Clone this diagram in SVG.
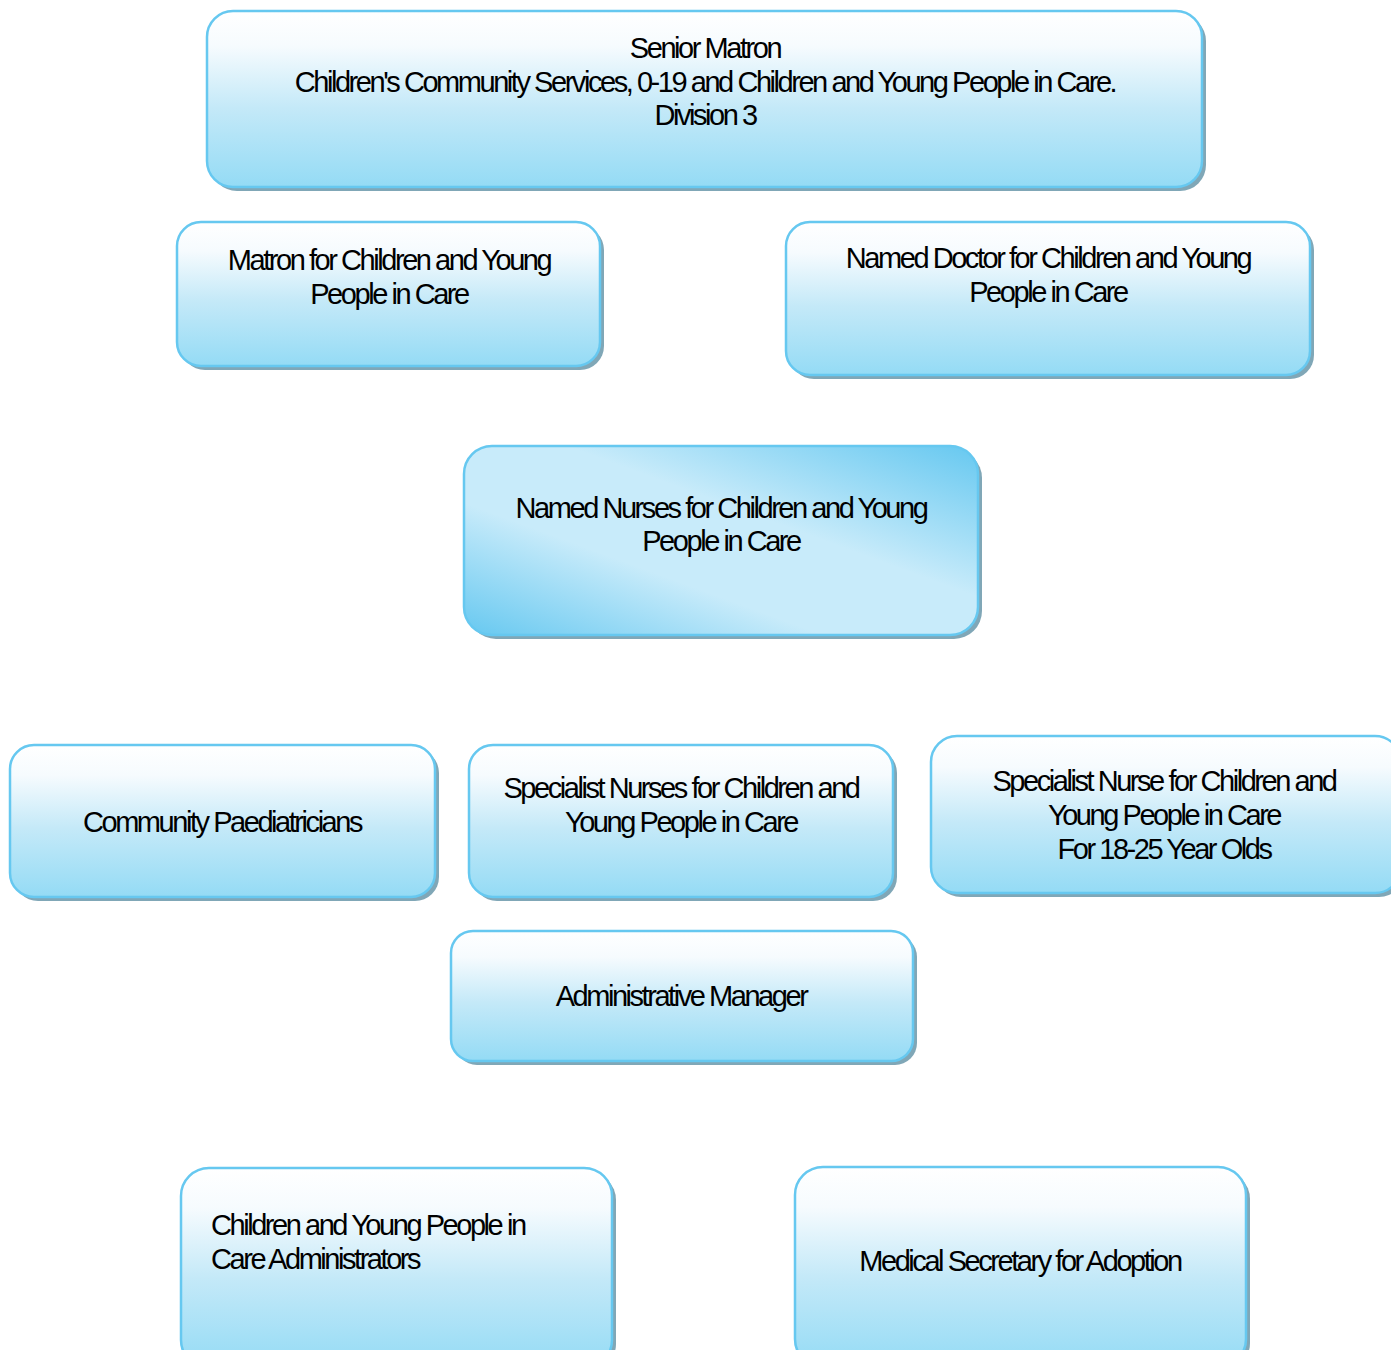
<svg xmlns="http://www.w3.org/2000/svg" width="1391" height="1350" viewBox="0 0 1391 1350">
  <defs>
    <linearGradient id="fillV" x1="0" y1="0" x2="0" y2="1">
      <stop offset="0" stop-color="#ffffff"/>
      <stop offset="0.2" stop-color="#f6fbfe"/>
      <stop offset="0.55" stop-color="#c4e9f8"/>
      <stop offset="1" stop-color="#94dbf5"/>
    </linearGradient>
    <linearGradient id="fillDiag" x1="0" y1="1" x2="1" y2="0">
      <stop offset="0" stop-color="#66c8f0"/>
      <stop offset="0.35" stop-color="#c8ebfa"/>
      <stop offset="0.6" stop-color="#c8ebfa"/>
      <stop offset="1" stop-color="#66c8f0"/>
    </linearGradient>
    <style>
      .shadow { fill: #80a7b7; }
      .box { fill: url(#fillV); stroke: #66c8f0; stroke-width: 2.5; }
      .box-diag { fill: url(#fillDiag); stroke: #66c8f0; stroke-width: 2.5; }
      .label { font-family: "Liberation Sans", Arial, sans-serif; font-size: 29px; letter-spacing: -2.45px; fill: #000; text-anchor: middle; }
      .label-left { text-anchor: start; }
    </style>
  </defs>

  <g id="connectors"></g>

  <g id="senior-matron">
    <rect class="shadow" x="211" y="15" width="995" height="176" rx="26"/>
    <rect class="box" x="207" y="11" width="995" height="176" rx="26"/>
    <text class="label" x="705" y="58">Senior Matron</text>
    <text class="label" x="705" y="92">Children's Community Services, 0-19 and Children and Young People in Care.</text>
    <text class="label" x="705" y="125">Division 3</text>
  </g>

  <g id="matron-cypic">
    <rect class="shadow" x="181" y="226" width="423" height="144" rx="24"/>
    <rect class="box" x="177" y="222" width="423" height="144" rx="24"/>
    <text class="label" x="389" y="270">Matron for Children and Young</text>
    <text class="label" x="389" y="304">People in Care</text>
  </g>

  <g id="named-doctor">
    <rect class="shadow" x="790" y="226" width="524" height="153" rx="24"/>
    <rect class="box" x="786" y="222" width="524" height="153" rx="24"/>
    <text class="label" x="1048" y="268">Named Doctor for Children and Young</text>
    <text class="label" x="1048" y="302">People in Care</text>
  </g>

  <g id="named-nurses">
    <rect class="shadow" x="468" y="450" width="514" height="189" rx="28"/>
    <rect class="box-diag" x="464" y="446" width="514" height="189" rx="28"/>
    <text class="label" x="721" y="518">Named Nurses for Children and Young</text>
    <text class="label" x="721" y="551">People in Care</text>
  </g>

  <g id="community-paediatricians">
    <rect class="shadow" x="14" y="749" width="425" height="152" rx="24"/>
    <rect class="box" x="10" y="745" width="425" height="152" rx="24"/>
    <text class="label" x="222" y="832">Community Paediatricians</text>
  </g>

  <g id="specialist-nurses">
    <rect class="shadow" x="473" y="749" width="424" height="152" rx="24"/>
    <rect class="box" x="469" y="745" width="424" height="152" rx="24"/>
    <text class="label" x="681" y="798">Specialist Nurses for Children and</text>
    <text class="label" x="681" y="832">Young People in Care</text>
  </g>

  <g id="specialist-nurse-18-25">
    <rect class="shadow" x="935" y="740" width="470" height="157" rx="26"/>
    <rect class="box" x="931" y="736" width="470" height="157" rx="26"/>
    <text class="label" x="1164" y="791">Specialist Nurse for Children and</text>
    <text class="label" x="1164" y="825">Young People in Care</text>
    <text class="label" x="1164" y="859">For 18-25 Year Olds</text>
  </g>

  <g id="administrative-manager">
    <rect class="shadow" x="455" y="935" width="462" height="130" rx="22"/>
    <rect class="box" x="451" y="931" width="462" height="130" rx="22"/>
    <text class="label" x="681" y="1006">Administrative Manager</text>
  </g>

  <g id="cypic-administrators">
    <rect class="shadow" x="185" y="1172" width="431" height="200" rx="28"/>
    <rect class="box" x="181" y="1168" width="431" height="200" rx="28"/>
    <text class="label label-left" x="211" y="1235">Children and Young People in</text>
    <text class="label label-left" x="211" y="1269">Care Administrators</text>
  </g>

  <g id="medical-secretary">
    <rect class="shadow" x="799" y="1171" width="451" height="200" rx="28"/>
    <rect class="box" x="795" y="1167" width="451" height="200" rx="28"/>
    <text class="label" x="1020" y="1271">Medical Secretary for Adoption</text>
  </g>
</svg>
